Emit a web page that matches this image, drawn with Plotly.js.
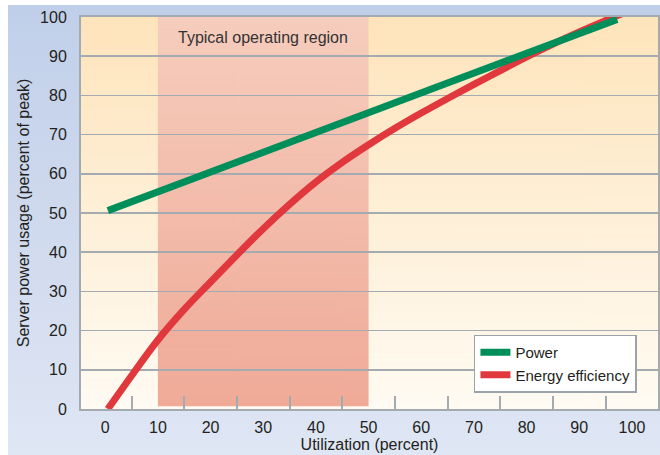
<!DOCTYPE html>
<html>
<head>
<meta charset="utf-8">
<script src="https://cdn.plot.ly/plotly-3.0.1.min.js"></script>
<style>
  html, body { margin: 0; padding: 0; background: #ffffff; }
  #wrap { position: relative; width: 660px; height: 455px; }
  #bg { position: absolute; left: 8px; top: 5px; width: 652px; height: 450px;
        background: linear-gradient(to bottom, #c0cfe9 0%, #d3dcef 60%, #dfe6f4 100%); }
  #chart { position: absolute; left: 0; top: 0; width: 660px; height: 455px; }
</style>
</head>
<body>
<div id="wrap"><div id="bg"></div><div id="chart"></div></div>
<script>
// ---- data ----
const powerUtilization = [0.5, 97.2];
const powerUsage = [50.6, 99.4];

const effUtilization = [0.5, 5, 10, 15, 20, 25, 30, 35, 40, 45, 50, 55, 60, 65, 70, 75, 80, 85, 90, 95, 98.2];
const effUsage       = [0, 8.5, 17.6, 25.4, 32.4, 39.3, 46.0, 52.2, 57.9, 62.9, 67.4, 71.6, 75.5, 79.2, 82.8, 86.3, 89.8, 93.1, 96.2, 99.1, 100.9];

const seriesNames = ['Power', 'Energy efficiency'];
const typicalRegion = [10, 50];
const regionLabel = 'Typical operating region';

const xTickVals = [0, 10, 20, 30, 40, 50, 60, 70, 80, 90, 100];
const xTickText = ['0', '10', '20', '30', '40', '50', '60', '70', '80', '90', '100'];
const yTickVals = [0, 10, 20, 30, 40, 50, 60, 70, 80, 90, 100];
const yTickText = ['0', '10', '20', '30', '40', '50', '60', '70', '80', '90', '100'];

// ---- helpers ----
function gradient(top, bottom) {
  const c = document.createElement('canvas');
  c.width = 4; c.height = 256;
  const ctx = c.getContext('2d');
  const g = ctx.createLinearGradient(0, 0, 0, 256);
  g.addColorStop(0, top);
  g.addColorStop(1, bottom);
  ctx.fillStyle = g;
  ctx.fillRect(0, 0, 4, 256);
  return c.toDataURL();
}

const FONT = 'Liberation Sans, Arial, Helvetica, sans-serif';
const GRID = '#a3aab0';
const TXT = '#231f20';

const traces = [
  {
    x: effUtilization, y: effUsage, name: seriesNames[1],
    type: 'scatter', mode: 'lines',
    line: { color: '#e0383d', width: 7, shape: 'spline', smoothing: 1 },
    legendrank: 2, hoverinfo: 'x+y'
  },
  {
    x: powerUtilization, y: powerUsage, name: seriesNames[0],
    type: 'scatter', mode: 'lines',
    line: { color: '#008f5b', width: 7 },
    legendrank: 1, hoverinfo: 'x+y'
  }
];

const layout = {
  width: 660, height: 455,
  margin: { l: 81, r: 2, t: 17, b: 46 },
  paper_bgcolor: 'rgba(0,0,0,0)',
  plot_bgcolor: 'rgba(0,0,0,0)',
  font: { family: FONT, size: 16, color: TXT },
  showlegend: true,
  legend: {
    x: 0.681, y: 0.19, xanchor: 'left', yanchor: 'top',
    bgcolor: '#ffffff', bordercolor: '#9aa3ab', borderwidth: 1.5,
    font: { family: FONT, size: 15, color: TXT },
    itemwidth: 30, tracegroupgap: 0
  },
  xaxis: {
    range: [-4.6, 104.95],
    tickmode: 'array', tickvals: xTickVals, ticktext: xTickText,
    ticks: 'outside', ticklen: 3, tickcolor: 'rgba(0,0,0,0)',
    showgrid: false, zeroline: false,
    showline: true, linecolor: GRID, linewidth: 2, mirror: true,
    minor: { tick0: 5, dtick: 10, ticks: 'inside', ticklen: 13, tickcolor: GRID, tickwidth: 2, showgrid: false },
    tickfont: { family: FONT, size: 16, color: TXT },
    title: { text: 'Utilization (percent)', font: { family: FONT, size: 16, color: TXT }, standoff: 3 },
    fixedrange: true
  },
  yaxis: {
    range: [0, 100],
    tickmode: 'array', tickvals: yTickVals, ticktext: yTickText,
    ticks: '', showgrid: true, gridcolor: GRID, gridwidth: 1.5,
    zeroline: false,
    showline: true, linecolor: GRID, linewidth: 2, mirror: true,
    ticklabelstandoff: 9,
    tickfont: { family: FONT, size: 16, color: TXT },
    title: { text: 'Server power usage (percent of peak)', font: { family: FONT, size: 16, color: TXT }, standoff: 6 },
    fixedrange: true
  },
  images: [
    {
      source: gradient('#fee4bb', '#fffbf3'),
      xref: 'paper', yref: 'paper', x: 0, y: 1, sizex: 1, sizey: 1,
      xanchor: 'left', yanchor: 'top', sizing: 'stretch', layer: 'below'
    },
    {
      source: gradient('#f6cdbd', '#f0aa98'),
      xref: 'x', yref: 'y', x: typicalRegion[0], y: 100,
      sizex: typicalRegion[1] - typicalRegion[0], sizey: 99.3,
      xanchor: 'left', yanchor: 'top', sizing: 'stretch', layer: 'below'
    }
  ],
  annotations: [
    {
      x: (typicalRegion[0] + typicalRegion[1]) / 2, y: 94.7, xref: 'x', yref: 'y',
      text: regionLabel, showarrow: false,
      font: { family: FONT, size: 16, color: '#333333' }
    }
  ]
};

Plotly.newPlot('chart', traces, layout, { displayModeBar: false, staticPlot: true });
</script>
</body>
</html>
